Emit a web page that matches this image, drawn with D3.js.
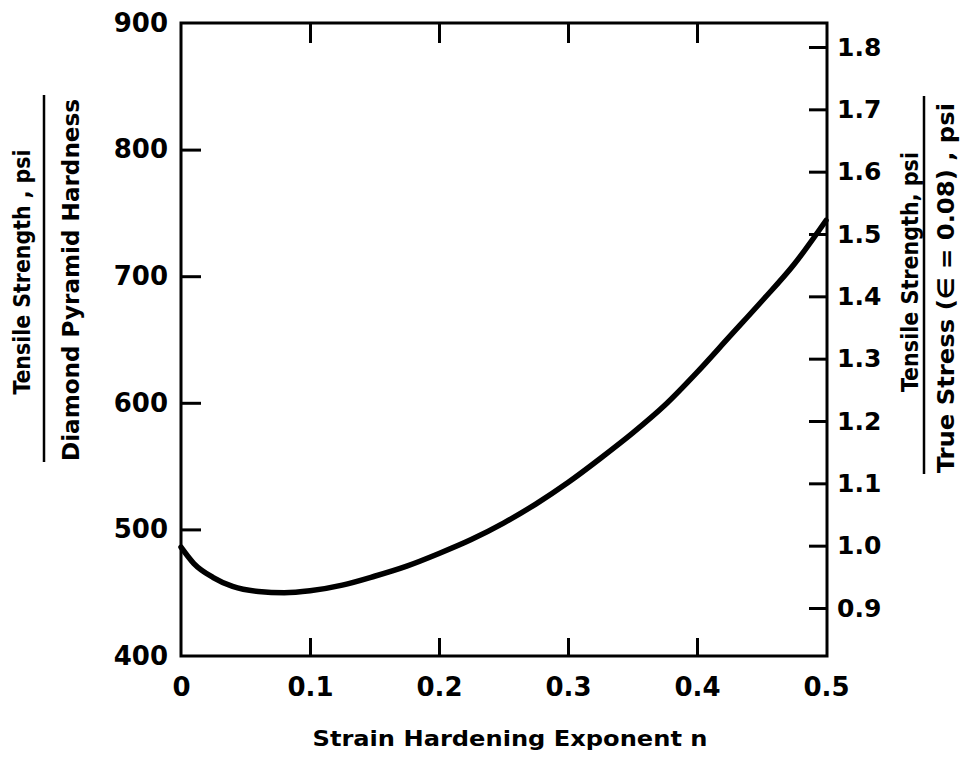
<!DOCTYPE html>
<html>
<head>
<meta charset="utf-8">
<script src="https://cdn.jsdelivr.net/npm/d3@7"></script>
<style>
  html, body { margin: 0; padding: 0; background: #fff; }
  svg { display: block; }
</style>
</head>
<body>
<svg id="chart" width="965" height="757"></svg>
<script>
// ---- data ----
const nValues = [0, 0.01, 0.025, 0.04, 0.06, 0.08, 0.1, 0.125, 0.15, 0.175, 0.2, 0.225, 0.25, 0.275, 0.3, 0.325, 0.35, 0.375, 0.4, 0.425, 0.45, 0.475, 0.5];
const ratioValues = [486, 473, 462, 455, 451, 450, 451.5, 456, 463, 471, 481, 492, 505, 520, 537, 556, 576, 598, 624, 652, 680, 709, 744];
const xTicks = [0, 0.1, 0.2, 0.3, 0.4, 0.5];
const xTickLabels = ["0", "0.1", "0.2", "0.3", "0.4", "0.5"];
const leftTicks = [400, 500, 600, 700, 800, 900];
const rightTicks = [0.9, 1.0, 1.1, 1.2, 1.3, 1.4, 1.5, 1.6, 1.7, 1.8];
const rightTickLabels = ["0.9", "1.0", "1.1", "1.2", "1.3", "1.4", "1.5", "1.6", "1.7", "1.8"];
const xTitle = "Strain Hardening Exponent n";
const leftTitleTop = "Tensile Strength , psi";
const leftTitleBottom = "Diamond  Pyramid Hardness";
const rightTitleTop = "Tensile Strength, psi";
const rightTitleBottom = "True  Stress (\u2208 = 0.08) , psi";

// ---- layout ----
const L = 181, R = 826, T = 23, B = 656;
const svg = d3.select("#chart");
const x = d3.scaleLinear().domain([0, 0.5]).range([L, R]);
const yL = d3.scaleLinear().domain([400, 900]).range([B, T]);
const yR = d3.scaleLinear().domain([0.9, 1.8]).range([608, 47]);

const tickFont = "'DejaVu Sans', sans-serif";
const titleFont = "'DejaVu Sans Condensed', 'Liberation Sans Narrow', 'DejaVu Sans', sans-serif";

function styleAxis(g, size) {
  g.select(".domain").remove();
  g.selectAll(".tick line").attr("stroke", "#000").attr("stroke-width", 3);
  g.selectAll(".tick text")
    .attr("fill", "#000")
    .style("font-family", tickFont)
    .style("font-weight", "bold")
    .style("font-size", size + "px");
}

// bottom axis
svg.append("g").attr("transform", `translate(0,${B})`)
  .call(d3.axisBottom(x).tickValues(xTicks).tickFormat((d, i) => xTickLabels[i]).tickSizeInner(-18).tickSizeOuter(0).tickPadding(22))
  .call(g => styleAxis(g, 26))
  .call(g => g.selectAll(".tick line").filter(d => d === 0 || d === 0.5).remove());

// top axis (ticks only)
svg.append("g").attr("transform", `translate(0,${T})`)
  .call(d3.axisTop(x).tickValues(xTicks.slice(1, -1)).tickFormat("").tickSizeInner(-20).tickSizeOuter(0))
  .call(g => styleAxis(g, 26));

// left axis
svg.append("g").attr("transform", `translate(${L},0)`)
  .call(d3.axisLeft(yL).tickValues(leftTicks).tickFormat(d3.format("d")).tickSizeInner(-20).tickSizeOuter(0).tickPadding(13))
  .call(g => styleAxis(g, 26))
  .call(g => g.selectAll(".tick line").filter(d => d === 400 || d === 900).remove());

// right axis
svg.append("g").attr("transform", `translate(${R + 1},0)`)
  .call(d3.axisRight(yR).tickValues(rightTicks).tickFormat((d, i) => rightTickLabels[i]).tickSizeInner(-18).tickSizeOuter(0).tickPadding(10))
  .call(g => styleAxis(g, 25));

// frame
svg.append("rect")
  .attr("x", L).attr("y", T).attr("width", R + 1 - L).attr("height", B - T)
  .attr("fill", "none").attr("stroke", "#000").attr("stroke-width", 3);

// curve
const line = d3.line()
  .x((d, i) => x(nValues[i]))
  .y(d => yL(d))
  .curve(d3.curveMonotoneX);
svg.append("path")
  .datum(ratioValues)
  .attr("d", line)
  .attr("fill", "none")
  .attr("stroke", "#000")
  .attr("stroke-width", 5.5)
  .attr("stroke-linecap", "round")
  .attr("stroke-linejoin", "round");

// x title
svg.append("text")
  .attr("x", 510).attr("y", 746)
  .attr("text-anchor", "middle")
  .attr("textLength", 395).attr("lengthAdjust", "spacingAndGlyphs")
  .style("font-family", tickFont).style("font-weight", "bold").style("font-size", "22px")
  .text(xTitle);

// vertical fraction titles
function vText(cx, cy, len, txt) {
  svg.append("text")
    .attr("transform", `translate(${cx},${cy}) rotate(-90)`)
    .attr("text-anchor", "middle")
    .attr("dy", "0.35em")
    .attr("textLength", len).attr("lengthAdjust", "spacingAndGlyphs")
    .style("font-family", titleFont).style("font-weight", "bold").style("font-size", "23px")
    .text(txt);
}
function vBar(cx, y0, y1) {
  svg.append("line").attr("x1", cx).attr("x2", cx).attr("y1", y0).attr("y2", y1)
    .attr("stroke", "#000").attr("stroke-width", 2.5);
}

vText(22, 272, 245, leftTitleTop);
vBar(44, 95, 462);
vText(71, 280, 362, leftTitleBottom);

vText(910, 272, 240, rightTitleTop);
vBar(924, 96, 474);
vText(946, 288, 370, rightTitleBottom);
</script>
</body>
</html>
